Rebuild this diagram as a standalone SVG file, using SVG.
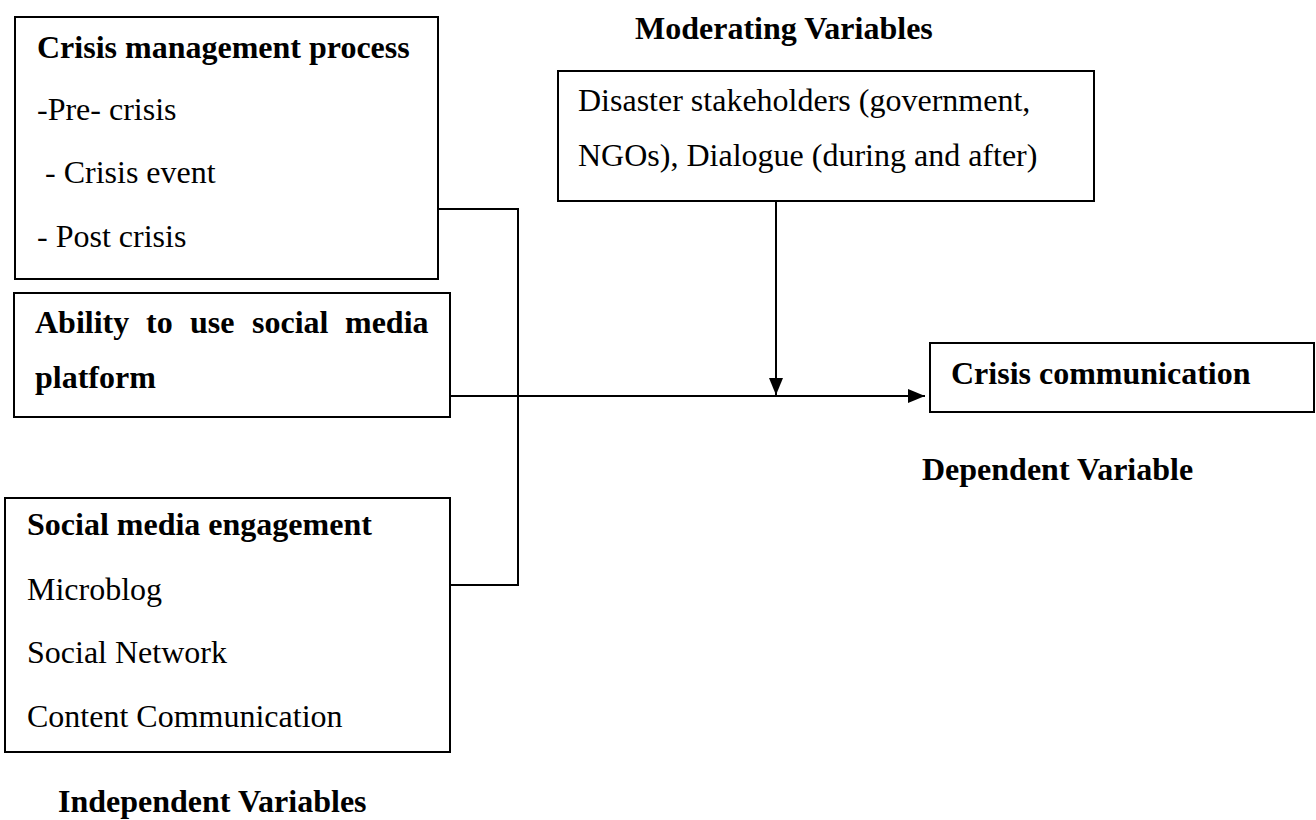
<svg xmlns="http://www.w3.org/2000/svg" width="1316" height="820" viewBox="0 0 1316 820">
<style>
  .box { fill: #fff; stroke: #000; stroke-width: 2; }
  .t { font-family: "Liberation Serif", "Times New Roman", serif; font-size: 32px; fill: #000; }
  .b { font-weight: bold; }
  .conn { fill: none; stroke: #000; stroke-width: 2; }
</style>
<defs>
  <marker id="arrow" viewBox="0 0 17 14" refX="17" refY="7" markerWidth="17" markerHeight="14" markerUnits="userSpaceOnUse" orient="auto">
    <path d="M0,0 L17,7 L0,14 Z" fill="#000"/>
  </marker>
</defs>
<rect width="1316" height="820" fill="#fff"/>

<g id="connectors">
  <path class="conn" d="M438,209 H518 V585 H450"/>
  <path class="conn" d="M450,396 H925" marker-end="url(#arrow)"/>
  <path class="conn" d="M776,201 V395" marker-end="url(#arrow)"/>
</g>

<g id="crisis-management">
  <rect class="box" x="15" y="17" width="423" height="262"/>
  <text class="t b" x="37" y="58">Crisis management process</text>
  <text class="t" x="37" y="120">-Pre- crisis</text>
  <text class="t" x="45" y="183">- Crisis event</text>
  <text class="t" x="37" y="247">- Post crisis</text>
</g>

<g id="ability">
  <rect class="box" x="14" y="293" width="436" height="124"/>
  <text class="t b" y="333"><tspan x="35">Ability</tspan><tspan x="146">to</tspan><tspan x="190">use</tspan><tspan x="252">social</tspan><tspan x="345">media</tspan></text>
  <text class="t b" x="35" y="388">platform</text>
</g>

<g id="engagement">
  <rect class="box" x="5" y="498" width="445" height="254"/>
  <text class="t b" x="27" y="535">Social media engagement</text>
  <text class="t" x="27" y="600">Microblog</text>
  <text class="t" x="27" y="663">Social Network</text>
  <text class="t" x="27" y="727">Content Communication</text>
</g>

<g id="independent-label">
  <text class="t b" x="58" y="812">Independent Variables</text>
</g>

<g id="moderating-label">
  <text class="t b" x="635" y="39">Moderating Variables</text>
</g>

<g id="moderator">
  <rect class="box" x="558" y="71" width="536" height="130"/>
  <text class="t" x="578" y="111">Disaster stakeholders (government,</text>
  <text class="t" x="578" y="166">NGOs), Dialogue (during and after)</text>
</g>

<g id="crisis-communication">
  <rect class="box" x="930" y="343" width="384" height="69"/>
  <text class="t b" x="951" y="384">Crisis communication</text>
</g>

<g id="dependent-label">
  <text class="t b" x="922" y="480">Dependent Variable</text>
</g>
</svg>
